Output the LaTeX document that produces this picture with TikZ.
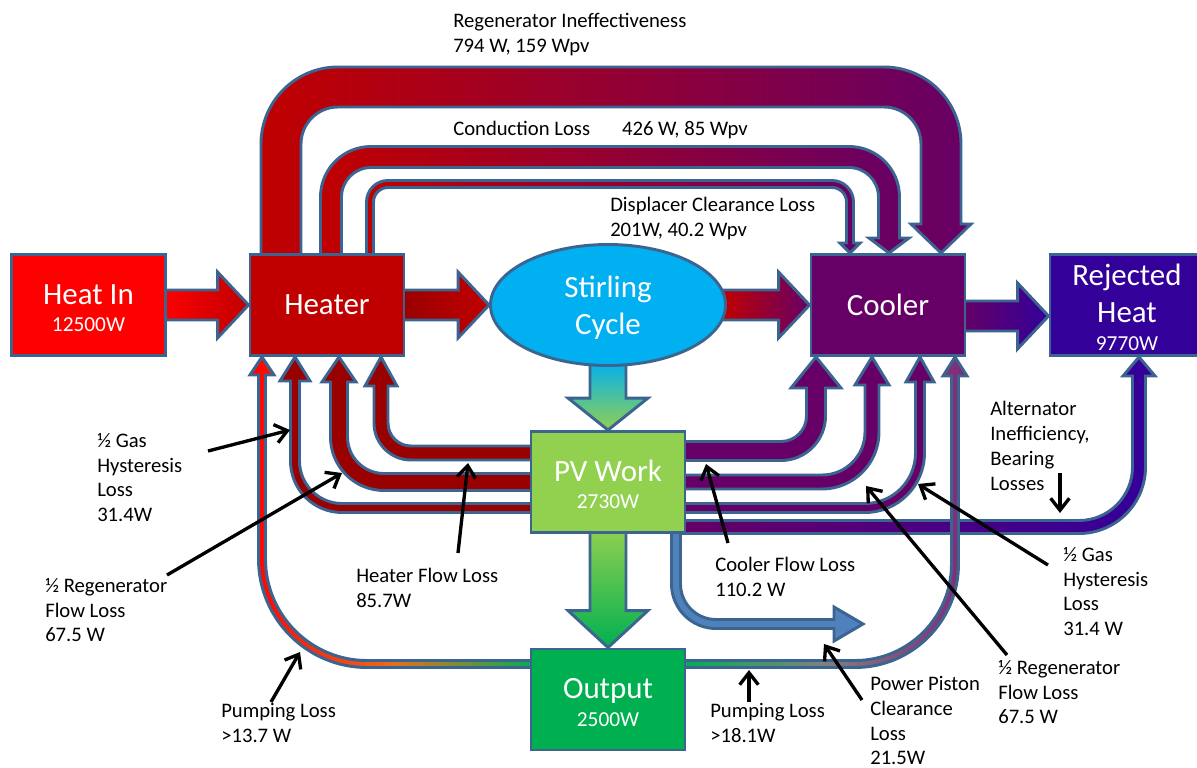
\documentclass[tikz,border=0pt]{standalone}
\usepackage{fontspec}
\setmainfont{Carlito}
\usetikzlibrary{positioning,shapes.geometric,arrows.meta,calc}

\definecolor{rimblue}{RGB}{60,100,145}
\definecolor{heatred}{RGB}{255,0,0}
\definecolor{heaterred}{RGB}{192,0,0}
\definecolor{lossred}{RGB}{153,0,0}
\definecolor{coolpurple}{RGB}{102,0,102}
\definecolor{rejectblue}{RGB}{51,0,153}
\definecolor{cyclecyan}{RGB}{0,176,240}
\definecolor{workgreen}{RGB}{146,208,80}
\definecolor{outgreen}{RGB}{0,176,80}
\definecolor{pistonblue}{RGB}{79,129,189}
\definecolor{pumppurple}{RGB}{128,40,120}
\definecolor{pumporange}{RGB}{230,110,30}

\newcommand{\bigfont}{\fontsize{23.2}{27.75}\selectfont}
\newcommand{\valfont}{\fontsize{16}{18}\selectfont}
\newcommand{\notefont}{\fontsize{15.5}{18.6}\selectfont}
\newcommand{\topgap}{\rule{0pt}{19.5pt}}

\pgfdeclarelayer{flows}
\pgfsetlayers{flows,main}

\tikzset{
  box/.style={draw=rimblue, line width=2.2pt, minimum width=115.5pt,
    minimum height=75.75pt, inner sep=0pt, text=white, align=center,
    font=\bigfont},
  band/.style={draw=rimblue, line width=2.2pt},
  note/.style={font=\notefont, align=left, anchor=north west, inner sep=0pt},
  pointer/.style={draw=black, line width=2.5pt,
    -{Straight Barb[length=9pt,width=14pt]}},
}

% loss band going over the top, heater -> cooler
\newcommand{\topband}[8]{%
  \pgfmathsetmacro{\halfw}{#4/2}%
  \pgfmathsetmacro{\rout}{#5+#4/2}%
  \pgfmathsetmacro{\rin}{#5-#4/2}%
  \path[band,#8] (#1-\halfw,258) -- (#1-\halfw,#3-\halfw+\rout)
    arc[start angle=180,end angle=270,radius=\rout] -- (#2+\halfw-\rout,#3-\halfw)
    arc[start angle=270,end angle=360,radius=\rout] -- (#2+\halfw,#7)
    -- (#2+#6,#7) -- (#2,253) -- (#2-#6,#7) -- (#2-\halfw,#7)
    -- (#2-\halfw,#3+\halfw+\rin) arc[start angle=0,end angle=-90,radius=\rin]
    -- (#1+\halfw+\rin,#3+\halfw) arc[start angle=270,end angle=180,radius=\rin]
    -- (#1+\halfw,258) -- cycle;}

% loss band leaving a box sideways and bending up (#2 = -1 left, 1 right)
\newcommand{\sideband}[9]{%
  \pgfmathsetmacro{\halfw}{#5/2}%
  \pgfmathsetmacro{\rout}{#6+#5/2}%
  \pgfmathsetmacro{\rin}{#6-#5/2}%
  \pgfmathsetmacro{\bendang}{90-90*(#2)}%
  \pgfmathsetmacro{\bxa}{#3-(#2)*(\halfw+\rin)}%
  \pgfmathsetmacro{\bxb}{#3-(#2)*\halfw}%
  \pgfmathsetmacro{\bxc}{#3-(#2)*#7}%
  \pgfmathsetmacro{\bxd}{#3+(#2)*#7}%
  \pgfmathsetmacro{\bxe}{#3+(#2)*\halfw}%
  \pgfmathsetmacro{\bya}{#4-\halfw}%
  \pgfmathsetmacro{\byb}{#4+\halfw}%
  \pgfmathsetmacro{\byc}{#4+\halfw-\rout}%
  \path[band,#9] (#1,\bya) -- (\bxa,\bya)
    arc[start angle=90,end angle=\bendang,radius=\rin] -- (\bxb,#8)
    -- (\bxc,#8) -- (#3,357) -- (\bxd,#8) -- (\bxe,#8) -- (\bxe,\byc)
    arc[start angle=\bendang,end angle=90,radius=\rout]
    -- (#1,\byb) -- cycle;}

% fat straight arrows between boxes
\newcommand{\flowh}[4]{%
  \path[band,#4] ($(#1)+(-6,#3-15)$) -- ($(#2)+(-31,#3-15)$)
    -- ($(#2)+(-31,#3-33)$) -- ($(#2)+(0,#3)$) -- ($(#2)+(-31,#3+33)$)
    -- ($(#2)+(-31,#3+15)$) -- ($(#1)+(-6,#3+15)$) -- cycle;}
\newcommand{\flowv}[4]{%
  \path[band,#4] ($(#1)+(-18,-6)$) -- ($(#2)+(-18,-#3)$)
    -- ($(#2)+(-40,-#3)$) -- (#2) -- ($(#2)+(40,-#3)$)
    -- ($(#2)+(18,-#3)$) -- ($(#1)+(18,-6)$) -- cycle;}

\begin{document}
\begin{tikzpicture}[x=0.75pt,y=-0.75pt]
  \useasboundingbox (0,0) rectangle (1197,768);

  % boxes
  \node[box, fill=heatred] (heatin) at (88.5,305) {\topgap Heat In\\[-7pt]{\valfont 12500W}};
  \node[box, fill=heaterred] (heater) at (327,305) {Heater};
  \node[ellipse, draw=rimblue, line width=2.2pt, fill=cyclecyan,
    minimum width=176.25pt, minimum height=90.75pt, inner sep=0pt,
    text=white, align=center, font=\bigfont] (stirling) at (608,305) {\topgap Stirling\\Cycle};
  \node[box, fill=coolpurple] (cooler) at (888,305) {Cooler};
  \node[box, fill=rejectblue] (rejected) at (1127,305) {\topgap Rejected\\Heat\\[-7pt]{\valfont 9770W}};
  \node[box, fill=workgreen] (pvwork) at (608,482) {\topgap PV Work\\[-7pt]{\valfont 2730W}};
  \node[box, fill=outgreen] (output) at (608,699.5) {\topgap Output\\[-7pt]{\valfont 2500W}};

  \begin{pgfonlayer}{flows}
    \fill[white] (0,0) rectangle (1197,768);
    % main path
    \flowh{heatin.east}{heater.west}{0}{left color=heatred, right color=heaterred}
    \flowh{heater.east}{stirling.west}{0}{left color=lossred, right color=heaterred}
    \flowh{stirling.east}{cooler.west}{0}{left color=heaterred, right color=coolpurple}
    \flowh{cooler.east}{rejected.west}{11}{left color=coolpurple, right color=rejectblue}
    \flowv{stirling.south}{pvwork.north}{32}{top color=cyclecyan, bottom color=workgreen}
    \flowv{pvwork.south}{output.north}{37}{top color=workgreen, bottom color=outgreen}
    % over the top
    \topband{281}{941}{87}{40}{57}{30}{224}{left color=heaterred, right color=coolpurple}
    \topband{331}{889}{157}{21}{40}{20}{238}{left color=heaterred, right color=coolpurple}
    \topband{370}{850}{184}{7}{18}{10}{243}{left color=heaterred, right color=coolpurple}
    % back to the heater
    \sideband{535}{-1}{381}{453}{14}{30}{16}{386}{fill=lossred}
    \sideband{535}{-1}{339}{482}{17}{45}{17}{382}{fill=lossred}
    \sideband{535}{-1}{295}{508}{9}{47}{15}{381}{fill=lossred}
    % on to the cooler
    \sideband{681}{1}{816}{451}{19}{35}{25}{388}{fill=coolpurple}
    \sideband{681}{1}{872}{482}{14}{50}{17}{385}{fill=coolpurple}
    \sideband{681}{1}{920}{508}{9}{55}{14}{382}{fill=coolpurple}
    \sideband{681}{1}{1139}{527}{13}{60}{16}{376}{left color=coolpurple, right color=rejectblue}
    % pumping loops
    \sideband{535}{-1}{262}{664}{7}{105}{12}{375}{left color=heatred, right color=outgreen, middle color=pumporange}
    \sideband{681}{1}{955}{664}{7}{100}{12}{376}{left color=outgreen, right color=pumppurple, middle color=gray}
    % piston clearance
    \path[band, fill=pistonblue] (671.5,528) -- (671.5,584)
      arc[start angle=180,end angle=90,radius=44.5] -- (834,628.5)
      -- (834,641) -- (863,624) -- (834,607) -- (834,619.5) -- (716,619.5)
      arc[start angle=90,end angle=180,radius=35.5] -- (680.5,528) -- cycle;
  \end{pgfonlayer}

  % labels
  \node[note] (regenlbl) at (453,13) {Regenerator Ineffectiveness\\794 W, 159 Wpv};
  \node[note] (condlbl) at (453,121) {Conduction Loss\hspace{24pt}426 W, 85 Wpv};
  \node[note] (displbl) at (610,197) {Displacer Clearance Loss\\201W, 40.2 Wpv};
  \node[note] (lgaslbl) at (97,433) {½ Gas\\Hysteresis\\Loss\\31.4W};
  \node[note] (lregenlbl) at (45,578) {½ Regenerator\\Flow Loss\\67.5 W};
  \node[note] (hflowlbl) at (356,568) {Heater Flow Loss\\85.7W};
  \node[note] (cflowlbl) at (715,557) {Cooler Flow Loss\\110.2 W};
  \node[note] (lpumplbl) at (221,703) {Pumping Loss\\>13.7 W};
  \node[note] (rpumplbl) at (710,703) {Pumping Loss\\>18.1W};
  \node[note] (pistonlbl) at (870,676) {Power Piston\\Clearance\\Loss\\21.5W};
  \node[note] (rregenlbl) at (998,660) {½ Regenerator\\Flow Loss\\67.5 W};
  \node[note] (rgaslbl) at (1063,547) {½ Gas\\Hysteresis\\Loss\\31.4 W};
  \node[note] (altlbl) at (990,401) {Alternator\\Inefficiency,\\Bearing\\Losses};

  % pointers
  \coordinate (lgas-from) at (208,451);   \coordinate (lgas-to) at (290,430);
  \coordinate (lregen-from) at (167,575); \coordinate (lregen-to) at (342,473);
  \coordinate (hflow-from) at (458,553);  \coordinate (hflow-to) at (468,463);
  \coordinate (cflow-from) at (728,543);  \coordinate (cflow-to) at (706,464);
  \coordinate (rregen-from) at (1007,655); \coordinate (rregen-to) at (866,486);
  \coordinate (rgas-from) at (1048,565);  \coordinate (rgas-to) at (918,484);
  \coordinate (alt-from) at (1060,473);   \coordinate (alt-to) at (1060,513);
  \coordinate (piston-from) at (862,700); \coordinate (piston-to) at (824,644);
  \coordinate (rpump-from) at (749,702);  \coordinate (rpump-to) at (749,670);
  \coordinate (lpump-from) at (271,702);  \coordinate (lpump-to) at (300,652);
  \foreach \p in {lgas,lregen,hflow,cflow,rregen,rgas,alt,piston,rpump,lpump}
    \draw[pointer] (\p-from) -- (\p-to);
\end{tikzpicture}
\end{document}
